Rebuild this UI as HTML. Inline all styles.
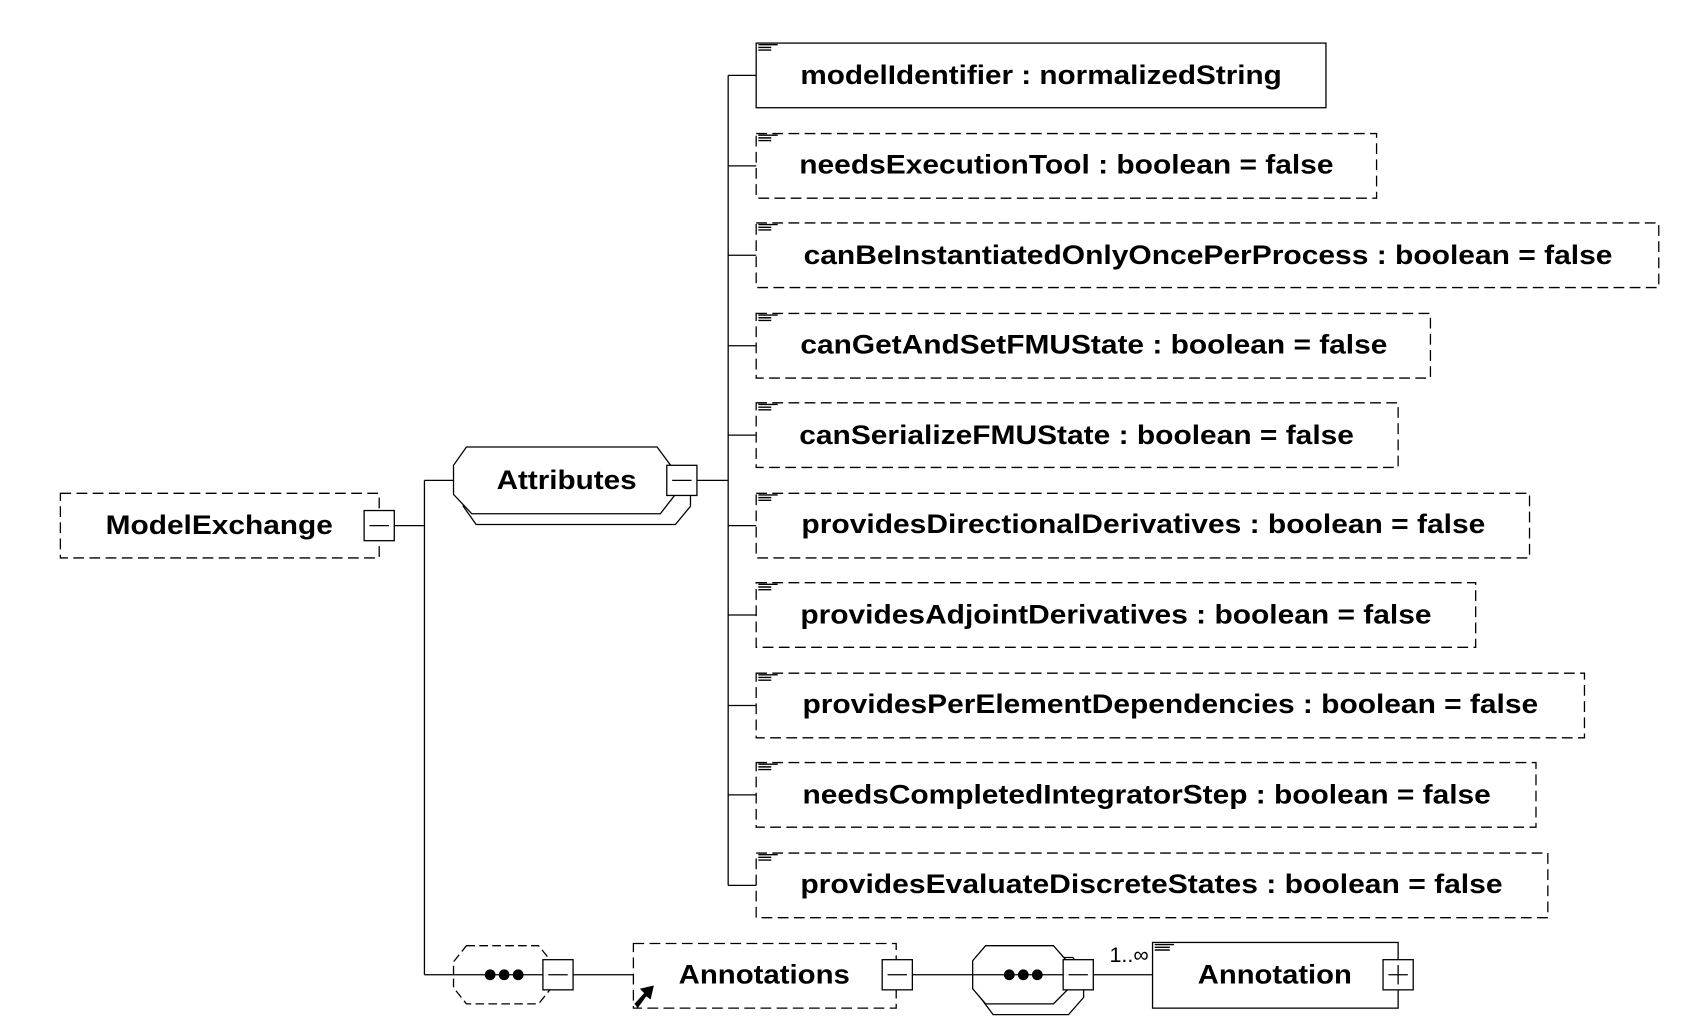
<!DOCTYPE html>
<html><head><style>html,body{margin:0;padding:0;background:#fff;overflow:hidden}svg{display:block}</style></head><body>
<svg width="1689" height="1020" viewBox="0 0 1568 947" xmlns="http://www.w3.org/2000/svg" font-family="Liberation Sans, Arial, sans-serif" font-weight="bold">
<g fill="none" stroke="#000" stroke-width="1.2">
<rect x="56" y="458" width="296" height="60" stroke-dasharray="10,5"/>
<rect x="338" y="474" width="28" height="28" fill="#fff"/>
<line x1="343" y1="488" x2="361" y2="488"/>
<line x1="366" y1="488" x2="394" y2="488"/>
<line x1="394" y1="446" x2="394" y2="905"/>
<line x1="394" y1="446" x2="421" y2="446"/>
<line x1="394" y1="905" x2="421" y2="905"/>
<polygon points="442,434 632,434 641,448 641,470 627,487 442,487 430,470" fill="#fff"/>
<polygon points="433,415 610,415 627,438 627,459 613,477 438,477 421,459 421,432" fill="#fff"/>
<rect x="619" y="432" width="28" height="28" fill="#fff"/>
<line x1="624" y1="446" x2="642" y2="446"/>
<line x1="647" y1="446" x2="676" y2="446"/>
<line x1="676" y1="70" x2="676" y2="822"/>
</g>
<text x="526" y="454" font-size="25" text-anchor="middle" textLength="130" lengthAdjust="spacingAndGlyphs">Attributes</text>
<text x="98" y="496" font-size="25" textLength="211" lengthAdjust="spacingAndGlyphs">ModelExchange</text>

<g fill="none" stroke="#000" stroke-width="1.2">
<line x1="676" y1="70" x2="702" y2="70"/><rect x="702" y="40" width="529" height="60"/>
<line x1="676" y1="154" x2="702" y2="154"/><rect x="702" y="124" width="576" height="60" stroke-dasharray="10,5"/>
<line x1="676" y1="237" x2="702" y2="237"/><rect x="702" y="207" width="838" height="60" stroke-dasharray="10,5"/>
<line x1="676" y1="321" x2="702" y2="321"/><rect x="702" y="291" width="626" height="60" stroke-dasharray="10,5"/>
<line x1="676" y1="404" x2="702" y2="404"/><rect x="702" y="374" width="596" height="60" stroke-dasharray="10,5"/>
<line x1="676" y1="488" x2="702" y2="488"/><rect x="702" y="458" width="718" height="60" stroke-dasharray="10,5"/>
<line x1="676" y1="571" x2="702" y2="571"/><rect x="702" y="541" width="668" height="60" stroke-dasharray="10,5"/>
<line x1="676" y1="655" x2="702" y2="655"/><rect x="702" y="625" width="769" height="60" stroke-dasharray="10,5"/>
<line x1="676" y1="738" x2="702" y2="738"/><rect x="702" y="708" width="724" height="60" stroke-dasharray="10,5"/>
<line x1="676" y1="822" x2="702" y2="822"/><rect x="702" y="792" width="735" height="60" stroke-dasharray="10,5"/>
</g>
<g stroke="#000" stroke-width="1.3">
<path d="M704 41.5h18M704 44h12M704 46.5h12"/>
<path d="M704 125.5h18M704 128h12M704 130.5h12"/>
<path d="M704 208.5h18M704 211h12M704 213.5h12"/>
<path d="M704 292.5h18M704 295h12M704 297.5h12"/>
<path d="M704 375.5h18M704 378h12M704 380.5h12"/>
<path d="M704 459.5h18M704 462h12M704 464.5h12"/>
<path d="M704 542.5h18M704 545h12M704 547.5h12"/>
<path d="M704 626.5h18M704 629h12M704 631.5h12"/>
<path d="M704 709.5h18M704 712h12M704 714.5h12"/>
<path d="M704 793.5h18M704 796h12M704 798.5h12"/>
</g>
<g font-size="25">
<text x="743" y="78" textLength="447" lengthAdjust="spacingAndGlyphs">modelIdentifier : normalizedString</text>
<text x="742" y="161" textLength="496" lengthAdjust="spacingAndGlyphs">needsExecutionTool : boolean = false</text>
<text x="746" y="245" textLength="751" lengthAdjust="spacingAndGlyphs">canBeInstantiatedOnlyOncePerProcess : boolean = false</text>
<text x="743" y="328" textLength="545" lengthAdjust="spacingAndGlyphs">canGetAndSetFMUState : boolean = false</text>
<text x="742" y="412" textLength="515" lengthAdjust="spacingAndGlyphs">canSerializeFMUState : boolean = false</text>
<text x="744" y="495" textLength="635" lengthAdjust="spacingAndGlyphs">providesDirectionalDerivatives : boolean = false</text>
<text x="743" y="579" textLength="586" lengthAdjust="spacingAndGlyphs">providesAdjointDerivatives : boolean = false</text>
<text x="745" y="662" textLength="683" lengthAdjust="spacingAndGlyphs">providesPerElementDependencies : boolean = false</text>
<text x="745" y="746" textLength="639" lengthAdjust="spacingAndGlyphs">needsCompletedIntegratorStep : boolean = false</text>
<text x="743" y="829" textLength="652" lengthAdjust="spacingAndGlyphs">providesEvaluateDiscreteStates : boolean = false</text>
</g>

<g fill="none" stroke="#000" stroke-width="1.2">
<polygon points="433,878 500,878 512,893 512,917 500,932 433,932 421,917 421,893" stroke-dasharray="8,4" fill="#fff"/>
<line x1="421" y1="905" x2="504" y2="905"/>
<rect x="504" y="891" width="28" height="28" fill="#fff"/>
<line x1="509" y1="905" x2="527" y2="905"/>
<line x1="532" y1="905" x2="588" y2="905"/>
<rect x="588" y="876" width="244" height="60" stroke-dasharray="10,5"/>
<rect x="819" y="891" width="28" height="28" fill="#fff"/>
<line x1="824" y1="905" x2="842" y2="905"/>
<line x1="847" y1="905" x2="903" y2="905"/>
<polygon points="922,889 996,889 1006,902 1006,926 992,942 922,942 910,926" fill="#fff"/>
<polygon points="915,878 978,878 992,894 992,918 978,932 915,932 903,918 903,892" fill="#fff"/>
<line x1="903" y1="905" x2="987" y2="905"/>
<rect x="987" y="891" width="28" height="28" fill="#fff"/>
<line x1="992" y1="905" x2="1010" y2="905"/>
<line x1="1015" y1="905" x2="1070" y2="905"/>
<rect x="1070" y="875" width="228" height="61"/>
<rect x="1284" y="891" width="28" height="28" fill="#fff"/>
<line x1="1289" y1="905" x2="1307" y2="905"/>
<line x1="1298" y1="896" x2="1298" y2="914"/>
</g>
<g fill="#000">
<circle cx="455" cy="905" r="5"/><circle cx="468" cy="905" r="5"/><circle cx="481" cy="905" r="5"/>
<circle cx="937" cy="905" r="5"/><circle cx="950" cy="905" r="5"/><circle cx="963" cy="905" r="5"/>
<polygon points="589,932 598,922 594,918 607,915 604,928 600,925 592,936"/>
</g>
<path d="M1072 877h18M1072 879.5h14M1072 882h14" stroke="#000" stroke-width="1.3"/>
<text x="1030" y="893" font-size="20" font-weight="normal">1..∞</text>
<text x="630" y="913" font-size="25" textLength="159" lengthAdjust="spacingAndGlyphs">Annotations</text>
<text x="1112" y="913" font-size="25" textLength="143" lengthAdjust="spacingAndGlyphs">Annotation</text>
</svg>
</body></html>
